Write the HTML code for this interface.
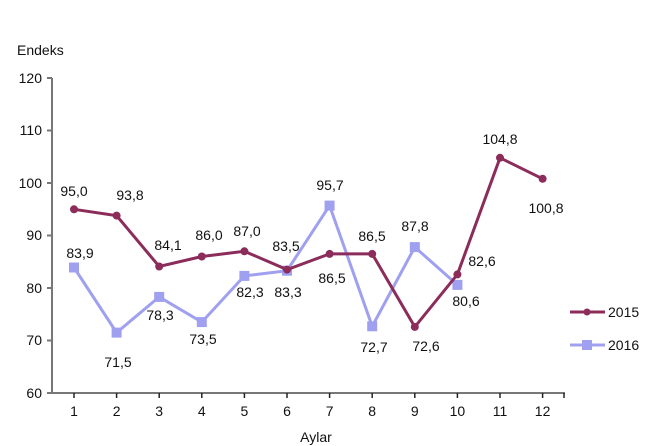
<!DOCTYPE html>
<html><head><style>body{margin:0;background:#fff}svg{display:block}text{font-family:"Liberation Sans",Arial,sans-serif;font-size:14px;fill:#111}</style></head>
<body>
<svg width="670" height="446" viewBox="0 0 670 446">
<g stroke="#777" stroke-width="2">
<line x1="52" y1="78" x2="52" y2="393"/>
<line x1="52" y1="393" x2="565" y2="393"/>
<line x1="47" y1="78" x2="52" y2="78"/><line x1="47" y1="130.5" x2="52" y2="130.5"/><line x1="47" y1="183" x2="52" y2="183"/><line x1="47" y1="235.5" x2="52" y2="235.5"/><line x1="47" y1="288" x2="52" y2="288"/><line x1="47" y1="340.5" x2="52" y2="340.5"/><line x1="47" y1="393" x2="52" y2="393"/>
</g>
<g stroke="#222" stroke-width="1.5">
<line x1="74" y1="393" x2="74" y2="398"/><line x1="116.6" y1="393" x2="116.6" y2="398"/><line x1="159.2" y1="393" x2="159.2" y2="398"/><line x1="201.8" y1="393" x2="201.8" y2="398"/><line x1="244.4" y1="393" x2="244.4" y2="398"/><line x1="287" y1="393" x2="287" y2="398"/><line x1="329.6" y1="393" x2="329.6" y2="398"/><line x1="372.2" y1="393" x2="372.2" y2="398"/><line x1="414.8" y1="393" x2="414.8" y2="398"/><line x1="457.4" y1="393" x2="457.4" y2="398"/><line x1="500" y1="393" x2="500" y2="398"/><line x1="542.6" y1="393" x2="542.6" y2="398"/><line x1="564" y1="393" x2="564" y2="398"/>
</g>
<text x="17" y="55">Endeks</text>
<g text-anchor="end">
<text x="42" y="83">120</text><text x="42" y="135">110</text><text x="42" y="188">100</text><text x="42" y="240">90</text><text x="42" y="293">80</text><text x="42" y="345">70</text><text x="42" y="398">60</text>
</g>
<g text-anchor="middle">
<text x="74" y="416">1</text><text x="116.6" y="416">2</text><text x="159.2" y="416">3</text><text x="201.8" y="416">4</text><text x="244.4" y="416">5</text><text x="287" y="416">6</text><text x="329.6" y="416">7</text><text x="372.2" y="416">8</text><text x="414.8" y="416">9</text><text x="457.4" y="416">10</text><text x="500" y="416">11</text><text x="542.6" y="416">12</text>
<text x="316" y="442">Aylar</text>
</g>
<polyline fill="none" stroke="#a0a0f0" stroke-width="3" points="74,267.5 116.6,332.6 159.2,296.9 201.8,322.1 244.4,275.9 287,270.7 329.6,205.6 372.2,326.3 414.8,247.1 457.4,284.9"/>
<g fill="#a0a0f0">
<rect x="69" y="262.5" width="10" height="10"/><rect x="111.6" y="327.6" width="10" height="10"/><rect x="154.2" y="291.9" width="10" height="10"/><rect x="196.8" y="317.1" width="10" height="10"/><rect x="239.4" y="270.9" width="10" height="10"/><rect x="282" y="265.7" width="10" height="10"/><rect x="324.6" y="200.6" width="10" height="10"/><rect x="367.2" y="321.3" width="10" height="10"/><rect x="409.8" y="242.1" width="10" height="10"/><rect x="452.4" y="279.9" width="10" height="10"/>
</g>
<polyline fill="none" stroke="#8b2c5a" stroke-width="3" points="74,209.3 116.6,215.6 159.2,266.5 201.8,256.5 244.4,251.3 287,269.6 329.6,253.9 372.2,253.9 414.8,326.9 457.4,274.4 500,157.8 542.6,178.8"/>
<g fill="#8b2c5a">
<circle cx="74" cy="209.3" r="4"/><circle cx="116.6" cy="215.6" r="4"/><circle cx="159.2" cy="266.5" r="4"/><circle cx="201.8" cy="256.5" r="4"/><circle cx="244.4" cy="251.3" r="4"/><circle cx="287" cy="269.6" r="4"/><circle cx="329.6" cy="253.9" r="4"/><circle cx="372.2" cy="253.9" r="4"/><circle cx="414.8" cy="326.9" r="4"/><circle cx="457.4" cy="274.4" r="4"/><circle cx="500" cy="157.8" r="4"/><circle cx="542.6" cy="178.8" r="4"/>
</g>
<g text-anchor="middle">
<text x="74" y="196">95,0</text><text x="130" y="200">93,8</text><text x="168" y="250">84,1</text><text x="209" y="240">86,0</text><text x="247" y="236">87,0</text><text x="286" y="251">83,5</text><text x="330" y="190">95,7</text><text x="372" y="241">86,5</text><text x="415" y="231">87,8</text><text x="500" y="144">104,8</text><text x="546" y="213">100,8</text>
<text x="80" y="258">83,9</text><text x="118" y="367">71,5</text><text x="160" y="320">78,3</text><text x="203" y="344">73,5</text><text x="250" y="297">82,3</text><text x="288" y="297">83,3</text><text x="332" y="283">86,5</text><text x="374" y="352">72,7</text><text x="426" y="351">72,6</text><text x="466" y="306">80,6</text><text x="482" y="266">82,6</text>
</g>
<line x1="570" y1="312" x2="605" y2="312" stroke="#8b2c5a" stroke-width="3"/><circle cx="587" cy="312" r="3.5" fill="#8b2c5a"/>
<text x="608" y="317">2015</text>
<line x1="570" y1="345" x2="605" y2="345" stroke="#a0a0f0" stroke-width="3"/><rect x="582" y="340" width="10" height="10" fill="#a0a0f0"/>
<text x="608" y="350">2016</text>
</svg>
</body></html>
